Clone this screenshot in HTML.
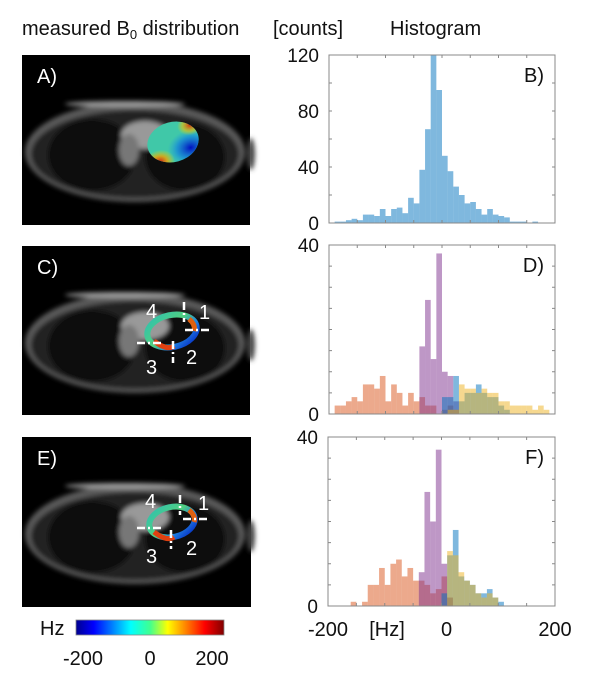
<!DOCTYPE html>
<html><head><meta charset="utf-8"><style>
body{margin:0;background:#fff;}
svg{display:block;font-family:"Liberation Sans",sans-serif;}
</style></head><body>
<svg id="fig" width="604" height="691" viewBox="0 0 604 691">
<defs>
<filter id="blur2"><feGaussianBlur stdDeviation="2.5"/></filter>
<linearGradient id="jet" x1="0" x2="1" y1="0" y2="0">
<stop offset="0" stop-color="#00008f"/><stop offset="0.12" stop-color="#0000ff"/><stop offset="0.37" stop-color="#00ffff"/>
<stop offset="0.5" stop-color="#40ff90" /><stop offset="0.62" stop-color="#ffff00"/><stop offset="0.87" stop-color="#ff0000"/><stop offset="1" stop-color="#800000"/>
</linearGradient>
<radialGradient id="blueSpot" cx="0.8" cy="0.75" r="0.45"><stop offset="0" stop-color="#0010c0"/><stop offset="0.6" stop-color="#1080e0" stop-opacity="0.7"/><stop offset="1" stop-color="#20a0e0" stop-opacity="0"/></radialGradient>
<radialGradient id="redSpot" cx="0.15" cy="0.9" r="0.3"><stop offset="0" stop-color="#d01010"/><stop offset="0.5" stop-color="#f0a000" stop-opacity="0.8"/><stop offset="1" stop-color="#f0e000" stop-opacity="0"/></radialGradient>
<radialGradient id="redSpot2" cx="0.9" cy="0.2" r="0.25"><stop offset="0" stop-color="#d03010"/><stop offset="0.6" stop-color="#f0c000" stop-opacity="0.6"/><stop offset="1" stop-color="#f0e000" stop-opacity="0"/></radialGradient>
<linearGradient id="ringG" x1="0" x2="1" y1="0" y2="1">
<stop offset="0" stop-color="#30c0b0"/><stop offset="0.45" stop-color="#50d080"/><stop offset="0.7" stop-color="#2080e0"/><stop offset="1" stop-color="#0020c0"/>
</linearGradient>
</defs>
<g id="titles">
<text x="22" y="35" font-size="20" fill="#111">measured B<tspan font-size="13" dy="4">0</tspan><tspan dy="-4"> distribution</tspan></text>
<text x="273" y="35" font-size="20" fill="#111">[counts]</text>
<text x="390" y="35" font-size="20" fill="#111">Histogram</text>
</g>
<g id="images"></g>
<g id="charts"></g>
<g id="colorbar">
<text x="40" y="635" font-size="20" fill="#111">Hz</text>
<rect x="76" y="620" width="148" height="15" fill="url(#jet)" stroke="#888" stroke-width="0.8"/>
<text x="83" y="665" font-size="20" fill="#111" text-anchor="middle">-200</text>
<text x="150" y="665" font-size="20" fill="#111" text-anchor="middle">0</text>
<text x="212" y="665" font-size="20" fill="#111" text-anchor="middle">200</text>
</g>
</svg>
<script>
// Histogram data (bins of 10 Hz, starting at -190 Hz)
const binStart = -190;
const binWidth = 10;
const histB = [1,1,2,3,2,6,6,5,10,5,10,11,7,18,14,38,67,125,95,48,37,26,20,14,15,10,6,10,6,5,4,1,1,1,0,1,0];
const histD_orange = [2,2,3,4,3,7,7,6,9,3,7,5,2,5,3,4,2,2,0,1,2,1];
const histD_purple = [0,0,0,0,0,0,0,0,0,0,0,0,0,0,0,16,27,13,38,10,9,3];
const histD_blue   = [0,0,0,0,0,0,0,0,0,0,0,0,0,0,0,0,0,0,0,4,4,9,3,5,5,7,5,4,4,2,1];
const histD_yellow = [0,0,0,0,0,0,0,0,0,0,0,0,0,0,0,0,0,0,0,0,1,1,7,6,6,5,6,5,5,3,3,2,2,2,2,1,2,1];
const histF_orange = [0,0,0,1,0,1,5,5,9,5,10,11,7,9,6,6,5,3,4,7,2];
const histF_purple = [0,0,0,0,0,0,0,0,0,0,0,0,0,0,0,8,27,20,37,10,2];
const histF_blue   = [0,0,0,0,0,0,0,0,0,0,0,0,0,0,0,0,0,0,0,3,12,18,7,6,5,3,3,4,2,1];
const histF_yellow = [0,0,0,0,0,0,0,0,0,0,0,0,0,0,0,0,0,0,0,0,13,12,8,6,5,3,2,3,2,0];
const yTicksB = [0,40,80,120];
const yLabelsB = ["0","40","80","120"];
const yTicksDF = [0,40];
const yLabelsDF = ["0","40"];
const xTickVals = [-200,-150,-100,-50,0,50,100,150,200];
const xLabelVals = [-200,0,200];

const NS="http://www.w3.org/2000/svg";
function mk(tag,attrs,parent){const e=document.createElementNS(NS,tag);for(const k in attrs)e.setAttribute(k,attrs[k]);parent.appendChild(e);return e;}
const charts=document.getElementById('charts');

function panel(name,box,ymax,series,yt,yl,letter,showX){
  const g=mk('g',{},charts);
  
  
  const xs=v=>box.x+(v+200)/400*box.w;
  const ys=v=>box.y+box.h-Math.min(v,ymax*1.05)/ymax*box.h;
  mk('rect',{x:box.x,y:box.y,width:box.w,height:box.h,fill:'#fff'},g);
  const clip=mk('clipPath',{id:'c'+name},g);
  mk('rect',{x:box.x,y:box.y,width:box.w,height:box.h},clip);
  const bars=mk('g',{'clip-path':'url(#c'+name+')'},g);
  series.forEach(s=>{
    s.data.forEach((v,i)=>{
      if(!v) return;
      const x0=xs(binStart+i*binWidth), x1=xs(binStart+(i+1)*binWidth);
      const r=mk('rect',{x:x0,y:ys(v),width:x1-x0,height:ys(0)-ys(v),fill:s.color,'fill-opacity':0.5},bars);
      
      
    });
  });
  mk('rect',{x:box.x,y:box.y,width:box.w,height:box.h,fill:'none',stroke:'#888','stroke-width':1},g);
  xTickVals.forEach(v=>{
    mk('line',{x1:xs(v),x2:xs(v),y1:box.y+box.h,y2:box.y+box.h-3,stroke:'#888'},g);
    mk('line',{x1:xs(v),x2:xs(v),y1:box.y,y2:box.y+3,stroke:'#888'},g);
  });
  const step=ymax===120?20:5;
  for(let v=0;v<=ymax;v+=step){
    mk('line',{x1:box.x,x2:box.x+3,y1:ys(v),y2:ys(v),stroke:'#888'},g);
    mk('line',{x1:box.x+box.w,x2:box.x+box.w-3,y1:ys(v),y2:ys(v),stroke:'#888'},g);
  }
  yt.forEach((v,i)=>{
    const t=mk('text',{x:box.x-10,y:ys(v)+7,'font-size':19,'text-anchor':'end',fill:'#111'},g);
    t.textContent=yl[i];
    
    
  });
  const L=mk('text',{x:box.x+box.w-11,y:box.y+27,'font-size':20,'text-anchor':'end',fill:'#111'},g);
  L.textContent=letter;
  
  
  if(showX){
    xLabelVals.forEach(v=>{
      const t=mk('text',{x:xs(v)+(v===0?5:0),y:box.y+box.h+30,'font-size':20,'text-anchor':'middle',fill:'#111'},g);
      t.textContent=String(v);
      
      
    });
    const u=mk('text',{x:387,y:box.y+box.h+30,'font-size':20,'text-anchor':'middle',fill:'#111'},g);
    u.textContent='[Hz]';
    
    
  }
}
const BLUE='#0072BD',ORANGE='#D95319',YEL='#EDB120',PUR='#7E2F8E';
panel('histogram-b',{x:329,y:55,w:226,h:168},120,[{data:histB,color:BLUE}],yTicksB,yLabelsB,'B)',false);
panel('histogram-d',{x:329,y:245,w:226,h:169},40,[{data:histD_orange,color:ORANGE},{data:histD_purple,color:PUR},{data:histD_blue,color:BLUE},{data:histD_yellow,color:YEL}],yTicksDF,yLabelsDF,'D)',false);
panel('histogram-f',{x:328,y:437,w:227,h:169},40,[{data:histF_orange,color:ORANGE},{data:histF_purple,color:PUR},{data:histF_blue,color:BLUE},{data:histF_yellow,color:YEL}],yTicksDF,yLabelsDF,'F)',true);

// MRI-like images
const imgs=document.getElementById('images');
function mri(name,x,y,w,h,letter,mode,ring,cross){
  const g=mk('g',{},imgs);
  
  
  mk('rect',{x:x,y:y,width:w,height:h,fill:'#000'},g);
  const cx=x+113, cy=y+97;
  const b=mk('g',{filter:'url(#blur2)'},g);
  mk('ellipse',{cx:cx,cy:cy,rx:110,ry:50,fill:'#5a5a5a'},b);
  mk('ellipse',{cx:cx,cy:cy+2,rx:104,ry:44,fill:'#222'},b);
  mk('ellipse',{cx:cx-43,cy:cy+3,rx:44,ry:36,fill:'#080808'},b);
  mk('ellipse',{cx:cx+50,cy:cy+5,rx:40,ry:34,fill:'#080808'},b);
  mk('ellipse',{cx:cx+10,cy:cy-17,rx:24,ry:14,fill:'#999'},b);
  mk('ellipse',{cx:cx-6,cy:cy-2,rx:10,ry:16,fill:'#777'},b);
  mk('ellipse',{cx:cx-10,cy:cy-48,rx:60,ry:3,fill:'#999'},b);
  mk('ellipse',{cx:cx+116,cy:cy+2,rx:4,ry:16,fill:'#444'},b);
  if(mode==='blob'){
    const bx=x+151, by=y+87;
    const bg=mk('g',{transform:`rotate(-15 ${bx} ${by})`},g);
    mk('ellipse',{cx:bx,cy:by,rx:26,ry:20,fill:'#40c8a8'},bg);
    mk('ellipse',{cx:bx,cy:by,rx:26,ry:20,fill:'url(#blueSpot)'},bg);
    mk('ellipse',{cx:bx,cy:by,rx:26,ry:20,fill:'url(#redSpot)'},bg);
    mk('ellipse',{cx:bx,cy:by,rx:26,ry:20,fill:'url(#redSpot2)'},bg);
  } else {
    mk('ellipse',{cx:ring.cx,cy:ring.cy,rx:ring.rx,ry:ring.ry,fill:'none',stroke:'url(#ringG)','stroke-width':6,transform:`rotate(-12 ${ring.cx} ${ring.cy})`},g);
    mk('path',{d:`M${ring.cx-18} ${ring.cy+10} Q${ring.cx-5} ${ring.cy+20} ${ring.cx+2} ${ring.cy+15}`,fill:'none',stroke:'#e04010','stroke-width':5},g);
    mk('path',{d:`M${ring.cx+17} ${ring.cy-12} Q${ring.cx+24} ${ring.cy-6} ${ring.cx+22} ${ring.cy}`,fill:'none',stroke:'#e06010','stroke-width':5},g);
    const c=mk('g',{stroke:'#fff','stroke-width':2.5,'stroke-dasharray':'8 3 2 3'},g);
    cross.lines.forEach(l=>mk('line',{x1:l[0],y1:l[1],x2:l[2],y2:l[3]},c));
    cross.labels.forEach(l=>{const t=mk('text',{x:l[1],y:l[2],'font-size':20,fill:'#fff'},g);t.textContent=l[0];
      
      });
  }
  const t=mk('text',{x:x+15,y:y+28,'font-size':20,fill:'#fff'},g);
  t.textContent=letter;
  
  
}
mri('b0-map-a',22,55,228,170,'A)','blob');
mri('b0-map-c',22,246,228,169,'C)','ring',{cx:172,cy:331,rx:25,ry:16},
 {lines:[[184,302,184,322],[185,330,211,330],[137,343,162,343],[173,341,173,363]],labels:[['4',146,318],['1',199,319],['2',186,364],['3',146,374]]});
mri('b0-map-e',22,437,229,170,'E)','ring',{cx:172,cy:522,rx:23,ry:15},
 {lines:[[180,495,180,515],[183,519,210,519],[137,528,163,528],[171,530,171,549]],labels:[['4',145,508],['1',198,510],['2',186,555],['3',146,563]]});
</script>
</body></html>
